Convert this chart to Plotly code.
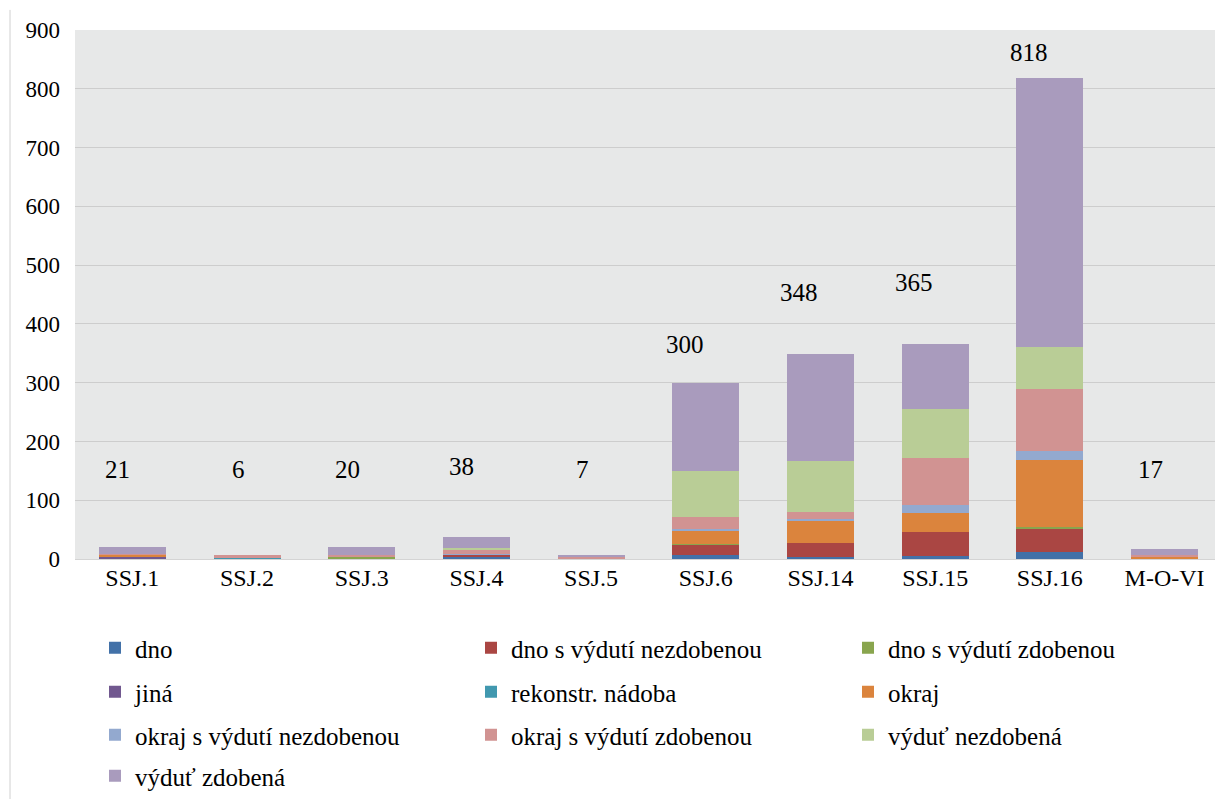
import plotly.graph_objects as go

# Sites / features along the x axis
categories = ["SSJ.1", "SSJ.2", "SSJ.3", "SSJ.4", "SSJ.5",
              "SSJ.6", "SSJ.14", "SSJ.15", "SSJ.16", "M-O-VI"]

# Sherd counts per fragment type (stacked bottom -> top)
dno = [0, 0, 0, 3, 0, 7, 3, 5, 12, 0]
dno_vydut_nezdobena = [0, 0, 0, 4, 0, 17, 25, 41, 40, 0]
dno_vydut_zdobena = [0, 0, 4, 0, 0, 1, 0, 0, 2, 0]
jina = [4, 0, 0, 0, 0, 0, 0, 0, 0, 0]
rekonstr_nadoba = [0, 3, 0, 0, 0, 0, 0, 0, 0, 0]
okraj = [3, 0, 1, 0, 0, 23, 37, 32, 114, 4]
okraj_vydut_nezdobena = [0, 0, 0, 2, 0, 3, 3, 14, 16, 0]
okraj_vydut_zdobena = [2, 3, 2, 7, 3, 20, 12, 79, 106, 3]
vydut_nezdobena = [0, 0, 0, 2, 0, 79, 87, 84, 71, 0]
vydut_zdobena = [12, 0, 13, 20, 4, 150, 181, 110, 457, 10]

series = [
    ("dno", dno, "#4271A8"),
    ("dno s výdutí nezdobenou", dno_vydut_nezdobena, "#AA4643"),
    ("dno s výdutí zdobenou", dno_vydut_zdobena, "#89A54E"),
    ("jiná", jina, "#71588F"),
    ("rekonstr. nádoba", rekonstr_nadoba, "#4198AF"),
    ("okraj", okraj, "#DB843D"),
    ("okraj s výdutí nezdobenou", okraj_vydut_nezdobena, "#93A9CF"),
    ("okraj s výdutí zdobenou", okraj_vydut_zdobena, "#D19392"),
    ("výduť nezdobená", vydut_nezdobena, "#B9CD96"),
    ("výduť zdobená", vydut_zdobena, "#A99BBD"),
]

# Totals shown above each column
totals = [sum(vals[i] for _, vals, _ in series) for i in range(len(categories))]
# Heights (in axis units) where the total labels sit
label_y = [153, 153, 153, 158, 153, 365, 453, 470, 862, 152]

SERIF = "Liberation Serif"

# plot-area geometry in pixels (used to place the legend grid)
PL, PW, PB, PH = 75, 1140, 560, 530
col_px = [95, 471, 848]
row_px = [648, 692, 735, 778]

fig = go.Figure()
layout_legends = {}
for i, (name, vals, color) in enumerate(series):
    key = "legend" if i == 0 else f"legend{i + 1}"
    fig.add_trace(go.Bar(
        x=categories, y=vals, name=name,
        marker=dict(color=color, line=dict(width=0)),
        legend=key, showlegend=True,
    ))
    r, c = divmod(i, 3)
    layout_legends[key] = dict(
        x=(col_px[c] - PL) / PW, y=(PB - row_px[r]) / PH,
        xanchor="left", yanchor="middle", orientation="h",
        font=dict(family=SERIF, size=25, color="black"),
        bgcolor="rgba(0,0,0,0)",
        itemclick=False, itemdoubleclick=False,
    )

for cat, tot, ly in zip(categories, totals, label_y):
    fig.add_annotation(
        x=cat, y=ly, text=str(tot), showarrow=False,
        xanchor="right", yanchor="middle",
        font=dict(family=SERIF, size=25, color="black"),
    )

# thin frame line at the far left
fig.add_shape(type="line", xref="paper", yref="paper",
              x0=-0.057, x1=-0.057, y0=1.038, y1=-0.46,
              line=dict(color="#D0D0D0", width=1))

fig.update_layout(
    width=1215, height=799,
    margin=dict(l=PL, r=0, t=30, b=799 - PB),
    paper_bgcolor="white",
    plot_bgcolor="#E7E8E8",
    barmode="stack",
    bargap=0.416,
    showlegend=True,
    font=dict(family=SERIF, color="black"),
    xaxis=dict(
        range=[-0.5, 9.44], showgrid=False, ticks="",
        showline=True, linecolor="#D4D4D4", linewidth=1,
        tickfont=dict(family=SERIF, size=24, color="black"),
        ticklabelstandoff=-3,
    ),
    yaxis=dict(
        range=[0, 900], dtick=100, showgrid=True,
        gridcolor="#CDCDCD", gridwidth=1, zeroline=False,
        ticks="", tickfont=dict(family=SERIF, size=23, color="black"),
        ticklabelstandoff=14,
    ),
    **layout_legends,
)

fig.write_html("out.html")
